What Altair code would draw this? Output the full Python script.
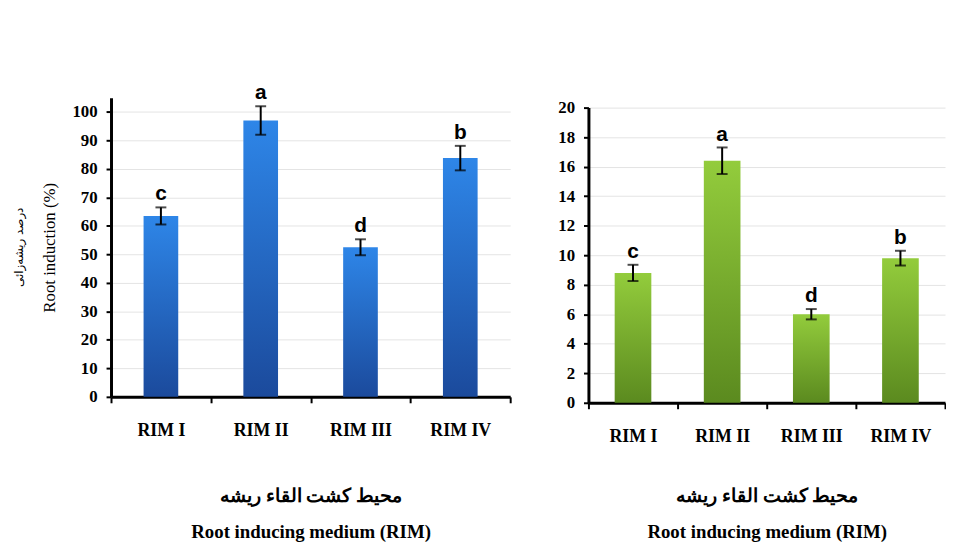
import altair as alt
import pandas as pd

media = ["RIM I", "RIM II", "RIM III", "RIM IV"]
letters = ["c", "a", "d", "b"]
induction = [63.5, 97.0, 52.5, 83.8]
induction_err = [3.0, 5.0, 2.8, 4.3]
roots = [8.8, 16.4, 6.0, 9.8]
roots_err = [0.55, 0.9, 0.35, 0.5]

left_ticks = [0, 10, 20, 30, 40, 50, 60, 70, 80, 90, 100]
right_ticks = [0, 2, 4, 6, 8, 10, 12, 14, 16, 18, 20]

x_title = ["محیط کشت القاء ریشه", "Root inducing medium (RIM)"]


def panel(values, errs, ymax, ticks, width, height, stops, bar_size, ytitle, tpad):
    df = pd.DataFrame({
        "medium": media,
        "value": values,
        "lo": [v - e for v, e in zip(values, errs)],
        "hi": [v + e for v, e in zip(values, errs)],
        "letter": letters,
    })
    yscale = alt.Scale(domain=[0, ymax], nice=False)
    xaxis = alt.Axis(
        title=x_title, tickBand="extent", labelAngle=0,
        labelFont="Liberation Serif", labelFontWeight="bold", labelFontSize=18,
        labelColor="black", labelPadding=19,
        domainColor="black", domainWidth=3, tickColor="black", tickWidth=2,
        tickSize=6, titleFont="Liberation Serif", titleFontWeight="bold",
        titleFontSize=19, titleColor="black", titlePadding=tpad, titleLineHeight=36,
        grid=False,
    )
    xscale = alt.Scale(paddingInner=0.0, paddingOuter=0.0)
    yaxis = alt.Axis(
        values=ticks, labelOverlap=False,
        labelFont="Liberation Serif", labelFontWeight="bold", labelFontSize=17,
        labelColor="black", labelPadding=9,
        domainColor="black", domainWidth=3, tickColor="black", tickWidth=2, tickSize=5,
        gridColor="#e4e4e4", gridWidth=1,
        title=ytitle if ytitle else "",
        titleFont="Liberation Serif", titleFontWeight="normal",
        titleFontSize=17, titleColor="black", titlePadding=14,
    )

    def X():
        return alt.X("medium:N", sort=media, scale=xscale, axis=xaxis)

    def Y(field):
        return alt.Y(f"{field}:Q", scale=yscale, axis=yaxis)

    base = alt.Chart(df)
    bars = base.mark_bar(
        size=bar_size,
        color=alt.Gradient(gradient="linear", x1=0, x2=0, y1=0, y2=1,
                           stops=[alt.GradientStop(offset=0, color=stops[0]),
                                  alt.GradientStop(offset=1, color=stops[1])]),
    ).encode(x=X(), y=Y("value"))
    rules = base.mark_rule(color="black", strokeWidth=2).encode(
        x=X(), y=Y("lo"), y2="hi:Q")
    cap_hi = base.mark_tick(color="black", thickness=2, size=11).encode(
        x=X(), y=Y("hi"))
    cap_lo = base.mark_tick(color="black", thickness=2, size=11).encode(
        x=X(), y=Y("lo"))
    text = base.mark_text(
        font="Liberation Sans", fontWeight="bold", fontSize=21, color="black",
        baseline="bottom", dy=-3,
    ).encode(x=X(), y=Y("hi"), text="letter:N")
    return alt.layer(bars, rules, cap_hi, cap_lo, text).properties(width=width, height=height)


left = panel(induction, induction_err, 105, left_ticks, 403, 302,
             ["#2e86e8", "#1b4a9c"], 35, "Root induction (%)", 48).properties(
    title=alt.TitleParams("درصد ریشه‌زائی", orient="left", font="DejaVu Sans",
                          fontSize=12, fontWeight="normal", color="black", offset=14)
)
right = panel(roots, roots_err, 20, right_ticks, 360, 298,
              ["#93cc3c", "#5b8a1f"], 37, None, 42)

spacer = alt.Chart(pd.DataFrame({"a": [0]})).mark_point(opacity=0, size=0).encode(
    x=alt.value(0), y=alt.value(0)).properties(width=1, height=1)

chart = alt.hconcat(left, alt.vconcat(spacer, right, spacing=0), spacing=47).properties(
    padding={"top": 72, "left": 5, "right": 0, "bottom": 0},
    background="white",
).configure_view(stroke=None).configure_axis(
    labelFont="Liberation Serif", titleFont="Liberation Serif"
)

chart.save("out.html", embed_options={"renderer": "svg", "actions": False})
